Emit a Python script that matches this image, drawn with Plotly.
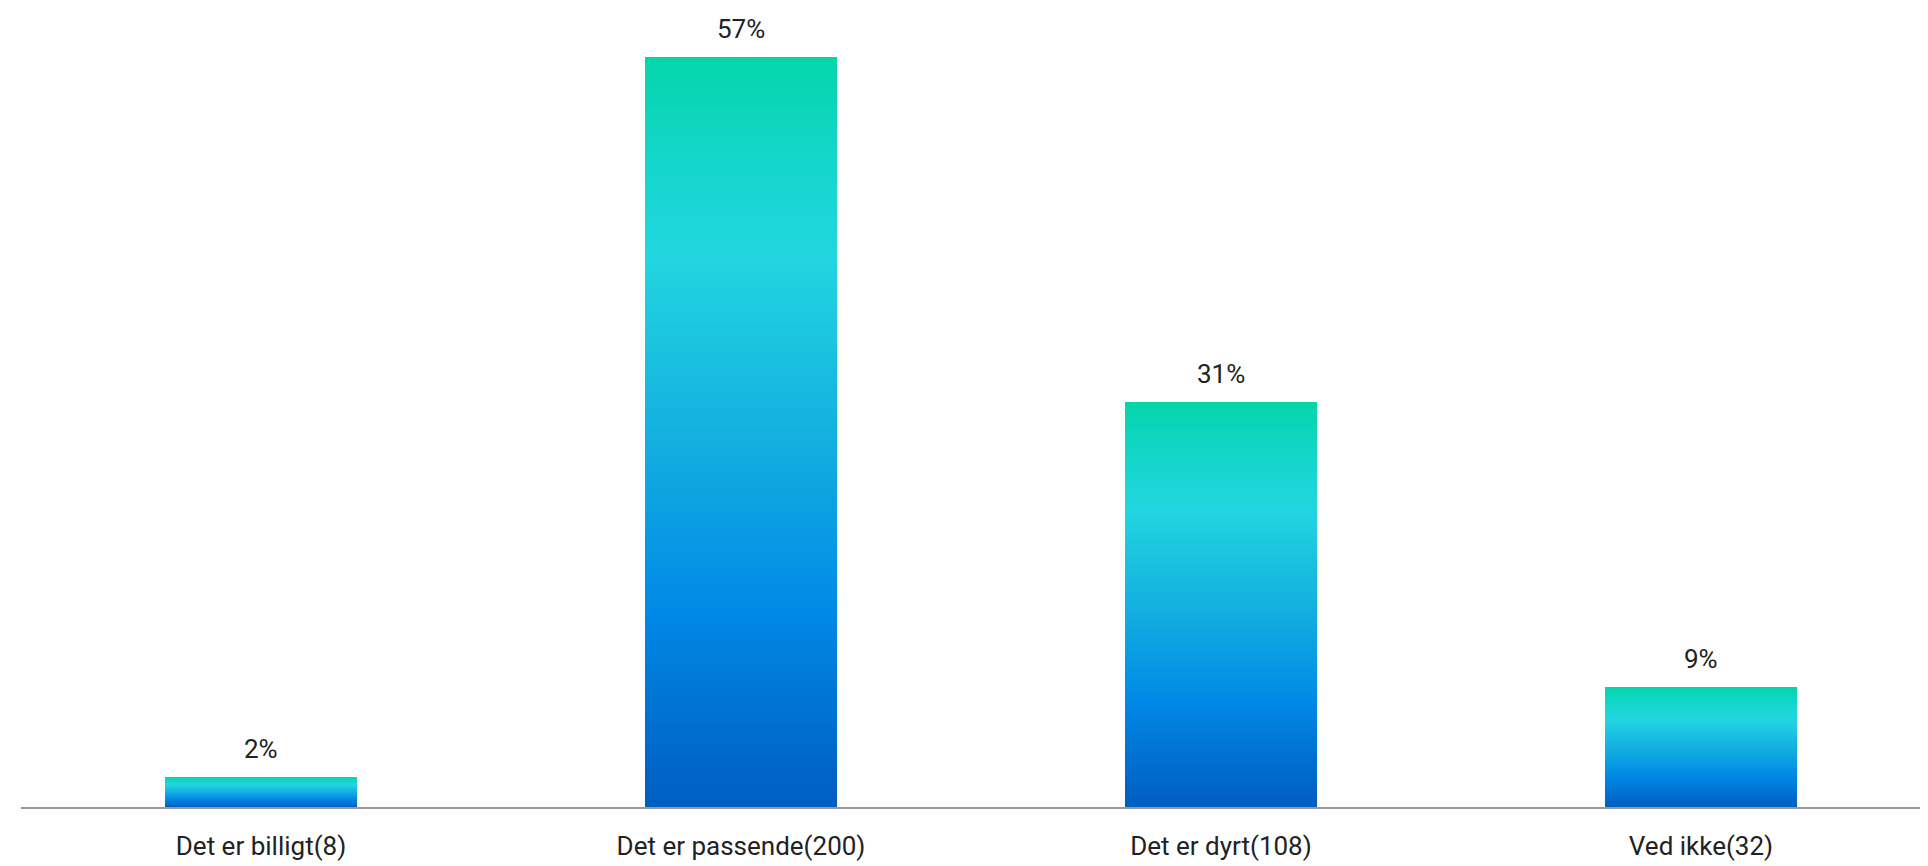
import plotly.graph_objects as go

categories = ["Det er billigt(8)", "Det er passende(200)", "Det er dyrt(108)", "Ved ikke(32)"]
counts = [8, 200, 108, 32]
total = sum(counts)
values = [c / total * 100 for c in counts]
labels = [f"{round(v)}%" for v in values]

# gradient stops: fraction from top of bar -> colour
stops = [(0.0, (5, 213, 171)), (0.12, (18, 214, 200)), (0.26, (34, 214, 224)),
         (0.5, (20, 176, 224)), (0.74, (0, 136, 230)), (1.0, (0, 92, 192))]

def color_at(f):
    for (f0, c0), (f1, c1) in zip(stops[:-1], stops[1:]):
        if f0 <= f <= f1:
            t = (f - f0) / (f1 - f0) if f1 > f0 else 0
            c = [round(a + (b - a) * t) for a, b in zip(c0, c1)]
            return f"rgb({c[0]},{c[1]},{c[2]})"
    return f"rgb{stops[-1][1]}"

N = 120
fig = go.Figure()
for k in range(N):
    frac = k / N
    fig.add_trace(go.Bar(
        x=categories,
        y=[v * (1 - frac) for v in values],
        marker=dict(color=color_at(frac), line=dict(width=0)),
        width=0.4,
        hoverinfo="skip",
        showlegend=False,
    ))

for c, v, lab in zip(categories, values, labels):
    fig.add_annotation(x=c, y=v, text=lab, showarrow=False, yanchor="middle",
                       yshift=28, font=dict(size=26, color="#222222", family="Roboto"))

px_per_unit = 750.4 / values[1]
W, H = 1920, 858
mt, mb, ml = 2, 59, 13
plot_h = H - mt - mb
plot_w = W - ml
fig.update_layout(
    width=W, height=H,
    barmode="overlay",
    bargap=0,
    margin=dict(l=ml, r=0, t=mt, b=mb),
    plot_bgcolor="white", paper_bgcolor="white",
    font=dict(family="Roboto", size=26, color="#222222"),
    xaxis=dict(range=[-0.5, -0.5 + plot_w / 480], showline=True, linecolor="#999999",
               linewidth=1.5, showgrid=False, zeroline=False, ticks="",
               ticklabelstandoff=15, tickfont=dict(size=26, color="#222222")),
    yaxis=dict(range=[0, plot_h / px_per_unit], visible=False, showgrid=False,
               zeroline=False),
)
fig.write_html("out.html")
